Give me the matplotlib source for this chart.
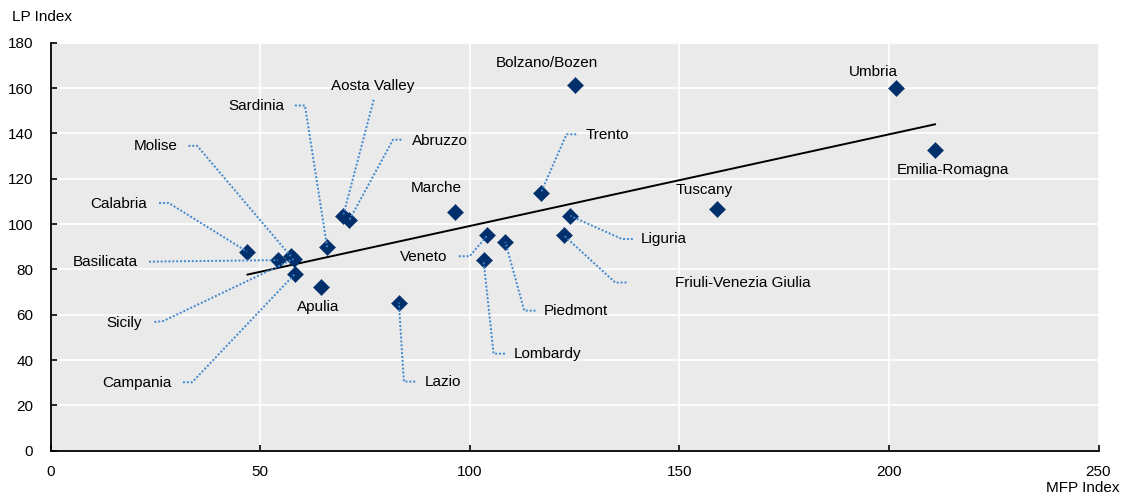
import matplotlib
matplotlib.use("Agg")
import matplotlib.pyplot as plt

plt.rcParams['font.family'] = ['Liberation Sans', 'DejaVu Sans']

# ---- data ----
regions = ["Abruzzo", "Aosta Valley", "Apulia", "Basilicata", "Calabria", "Campania",
           "Emilia-Romagna", "Friuli-Venezia Giulia", "Lazio", "Liguria", "Lombardy",
           "Marche", "Molise", "Piedmont", "Sardinia", "Sicily", "Bolzano/Bozen",
           "Trento", "Tuscany", "Umbria", "Veneto"]
mfp_index = [71.3, 69.8, 64.5, 54.3, 46.9, 58.3,
             211.0, 122.4, 83.1, 124.0, 103.3,
             96.5, 57.3, 108.5, 66.0, 58.0, 125.2,
             117.0, 158.9, 201.6, 104.2]
lp_index = [101.8, 103.6, 72.1, 84.1, 87.8, 78.0,
            132.7, 95.1, 65.3, 103.6, 84.0,
            105.5, 85.8, 92.1, 89.8, 84.6, 161.3,
            113.9, 106.8, 159.8, 95.0]
trend_mfp = [47.0, 211.0]
trend_lp = [77.7, 144.0]
x_ticks = [0, 50, 100, 150, 200, 250]
y_ticks = [0, 20, 40, 60, 80, 100, 120, 140, 160, 180]

# ---- label placement: (text x, text y, ha, leader points or None) ----
label_layout = {
    "Abruzzo": (86.2, 136.7, "left", [(83.7, 137.2), (81.7, 137.2)]),
    "Aosta Valley": (76.9, 160.7, "center", [(77.1, 154.8)]),
    "Apulia": (63.8, 63.2, "center", None),
    "Basilicata": (20.9, 83.4, "right", [(23.5, 83.4)]),
    "Calabria": (23.1, 109.0, "right", [(25.9, 109.3), (28.2, 109.3)]),
    "Campania": (28.8, 30.0, "right", [(31.6, 30.2), (33.8, 30.2)]),
    "Emilia-Romagna": (215.2, 123.9, "center", None),
    "Friuli-Venezia Giulia": (149.0, 74.0, "left", [(137.4, 74.2), (134.7, 74.2)]),
    "Lazio": (89.2, 30.3, "left", [(87.0, 30.5), (84.3, 30.5)]),
    "Liguria": (140.9, 93.4, "left", [(138.9, 93.4), (136.3, 93.4)]),
    "Lombardy": (110.6, 42.5, "left", [(108.4, 42.8), (105.7, 42.8)]),
    "Marche": (92.0, 116.0, "center", None),
    "Molise": (30.3, 134.3, "right", [(32.9, 134.5), (35.0, 134.5)]),
    "Piedmont": (117.7, 61.7, "left", [(115.7, 61.8), (113.0, 61.8)]),
    "Sardinia": (55.7, 152.0, "right", [(58.3, 152.3), (60.7, 152.3)]),
    "Sicily": (21.8, 56.5, "right", [(24.8, 56.8), (26.9, 57.2)]),
    "Bolzano/Bozen": (118.4, 171.0, "center", None),
    "Trento": (127.6, 139.2, "left", [(125.4, 139.6), (123.1, 139.6)]),
    "Tuscany": (156.0, 115.1, "center", None),
    "Umbria": (196.2, 167.0, "center", None),
    "Veneto": (94.6, 85.6, "right", [(97.4, 85.8), (100.0, 85.8)]),
}

W, H, DPI = 1123, 497, 100
fig = plt.figure(figsize=(W / DPI, H / DPI), dpi=DPI)
ax = fig.add_axes([50.5 / W, 1 - 450.7 / H, (1098.5 - 50.5) / W, (450.7 - 42.7) / H])

FS = 11
marker_color = "#002F6C"
leader_color = "#3F87CF"

ax.set_facecolor("#EAEAEA")
ax.set_xlim(0, 250)
ax.set_ylim(0, 180)
ax.set_xticks(x_ticks)
ax.set_yticks(y_ticks)
ax.grid(True, color="white", linewidth=1.2)
ax.set_axisbelow(True)
for s in ["top", "right"]:
    ax.spines[s].set_visible(False)
for s in ["left", "bottom"]:
    ax.spines[s].set_color("black")
    ax.spines[s].set_linewidth(1.3)
ax.tick_params(axis="x", direction="in", length=4, width=1.2, pad=10.5,
               labelsize=FS, colors="black")
ax.tick_params(axis="y", direction="in", length=4, width=1.2, pad=12.5,
               labelsize=FS, colors="black")

# trend line
ax.plot(trend_mfp, trend_lp, color="black", linewidth=1.4, zorder=3)

# points
ax.scatter(mfp_index, lp_index, marker="D", s=68, color=marker_color,
           edgecolor=marker_color, linewidth=0.3, zorder=4)

# labels + leaders
for name, xv, yv in zip(regions, mfp_index, lp_index):
    tx, ty, ha, leader = label_layout[name]
    if leader is not None:
        pts = leader + [(xv, yv)]
        ax.plot([p[0] for p in pts], [p[1] for p in pts], linestyle=(0, (1, 1)),
                color=leader_color, linewidth=1.4, zorder=5,
                dash_capstyle="butt")
    ax.text(tx, ty, name, ha=ha, va="center", fontsize=FS, color="black", zorder=6)

fig.text(12 / W, 1 - 17 / H, "LP Index", ha="left", va="center", fontsize=FS)
fig.text(1119 / W, 1 - 488 / H, "MFP Index", ha="right", va="center", fontsize=FS)

fig.savefig("out.png", dpi=DPI)
